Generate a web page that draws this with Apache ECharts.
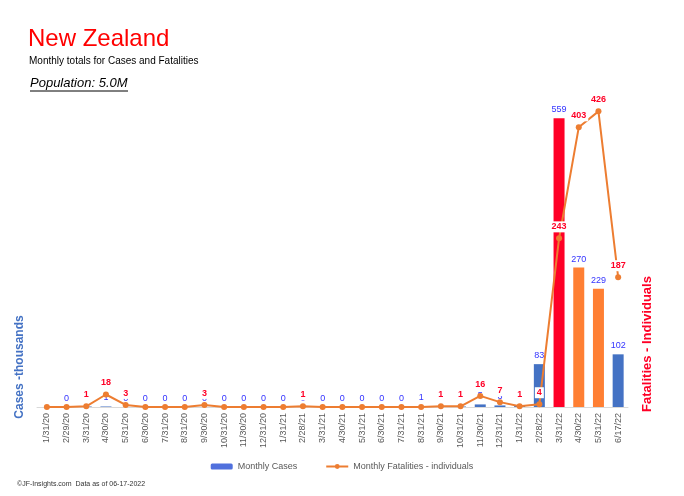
<!DOCTYPE html>
<html>
<head>
<meta charset="utf-8">
<script src="https://cdn.jsdelivr.net/npm/echarts@6/dist/echarts.min.js"></script>
<style>
  html, body { margin: 0; padding: 0; background: #fff; }
  #main { width: 684px; height: 496px; }
</style>
</head>
<body>
<div id="main"></div>
<script>
// month-end dates
var months = [
  "1/31/20", "2/29/20", "3/31/20", "4/30/20", "5/31/20", "6/30/20", "7/31/20", "8/31/20",
  "9/30/20", "10/31/20", "11/30/20", "12/31/20", "1/31/21", "2/28/21", "3/31/21", "4/30/21",
  "5/31/21", "6/30/21", "7/31/21", "8/31/21", "9/30/21", "10/31/21", "11/30/21", "12/31/21",
  "1/31/22", "2/28/22", "3/31/22", "4/30/22", "5/31/22", "6/17/22"
];
// cases, thousands
var monthlyCases = [
  null, 0, 1, 1, 0, 0, 0, 0,
  0, 0, 0, 0, 0, 0, 0, 0,
  0, 0, 0, 1, 1, 1, 5, 3,
  2, 83, 559, 270, 229, 102
];
// fatalities, individuals
var monthlyFatalities = [
  0, 0, 1, 18, 3, 0, 0, 0,
  3, 0, 0, 0, 0, 1, 0, 0,
  0, 0, 0, 0, 1, 1, 16, 7,
  1, 4, 243, 403, 426, 187
];

var highlight = { "3/31/22": "#ff0026", "4/30/22": "#ff7f33", "5/31/22": "#ff7f33" };
var font = "Liberation Sans";

var myChart = echarts.init(document.getElementById("main"));
var option = {
  animation: false,
  textStyle: { fontFamily: font },
  title: [
    { text: "New Zealand", left: 23, top: 22, textStyle: { color: "#ff0000", fontSize: 24, fontWeight: "normal", fontFamily: font } },
    { text: "Monthly totals for Cases and Fatalities", left: 24, top: 51, textStyle: { color: "#000", fontSize: 10, fontWeight: "normal", fontFamily: font } },
    { text: "Population: 5.0M", left: 25, top: 72, textStyle: { color: "#000", fontSize: 13, fontStyle: "italic", fontWeight: "normal", fontFamily: font } },
    { text: "\u00a9JF-Insights.com  Data as of 06-17-2022", left: 12, top: 476, textStyle: { color: "#333", fontSize: 7, fontWeight: "normal", fontFamily: font } }
  ],
  graphic: [
    { type: "line", shape: { x1: 30, y1: 91, x2: 128, y2: 91 }, style: { stroke: "#000", lineWidth: 1 } },
    {
      type: "text", x: 20, y: 367, rotation: Math.PI / 2,
      style: { text: "Cases -thousands", fill: "#4472c4", font: "bold 12px " + font, textAlign: "center", textVerticalAlign: "middle" }
    },
    {
      type: "text", x: 647, y: 344, rotation: Math.PI / 2,
      style: { text: "Fatalities - Individuals", fill: "#ff0026", font: "bold 13px " + font, textAlign: "center", textVerticalAlign: "middle" }
    }
  ],
  legend: {
    left: "center",
    top: 457,
    itemWidth: 22,
    itemHeight: 6,
    itemGap: 28,
    textStyle: { color: "#595959", fontSize: 9 },
    data: ["Monthly Cases", "Monthly Fatalities - individuals"]
  },
  grid: { left: 37, right: 56, top: 60, bottom: 89 },
  xAxis: {
    type: "category",
    data: months,
    axisLine: { lineStyle: { color: "#d9d9d9" } },
    axisTick: { length: 4, lineStyle: { color: "#d9d9d9" } },
    axisLabel: { rotate: 90, fontSize: 9, color: "#595959", margin: 6, interval: 0 }
  },
  yAxis: [
    { type: "value", min: 0, max: 672, show: false, splitLine: { show: false } },
    { type: "value", min: 0, max: 500, show: false, splitLine: { show: false } }
  ],
  series: [
    {
      name: "Monthly Cases",
      type: "bar",
      yAxisIndex: 0,
      barWidth: 11,
      data: monthlyCases,
      itemStyle: {
        color: function (p) { return highlight[p.name] || "#4472c4"; }
      },
      label: {
        show: true,
        position: "top",
        distance: 4,
        fontSize: 9,
        color: "#3333ff",
        formatter: function (p) { return p.value == null ? "" : Math.round(p.value); }
      },
      z: 2
    },
    {
      name: "Monthly Fatalities - individuals",
      type: "line",
      yAxisIndex: 1,
      data: monthlyFatalities,
      symbol: "circle",
      symbolSize: 6,
      lineStyle: { color: "#ed7d31", width: 2 },
      itemStyle: { color: "#ed7d31" },
      label: {
        show: true,
        position: "top",
        distance: 3,
        formatter: function (p) { return p.value ? "{v|" + p.value + "}" : ""; },
        rich: {
          v: {
            fontSize: 9,
            fontWeight: "bold",
            color: "#ff0026",
            backgroundColor: "#fff",
            padding: [1, 2]
          }
        }
      },
      z: 3
    }
  ]
};
option && myChart.setOption(option);
</script>
</body>
</html>
